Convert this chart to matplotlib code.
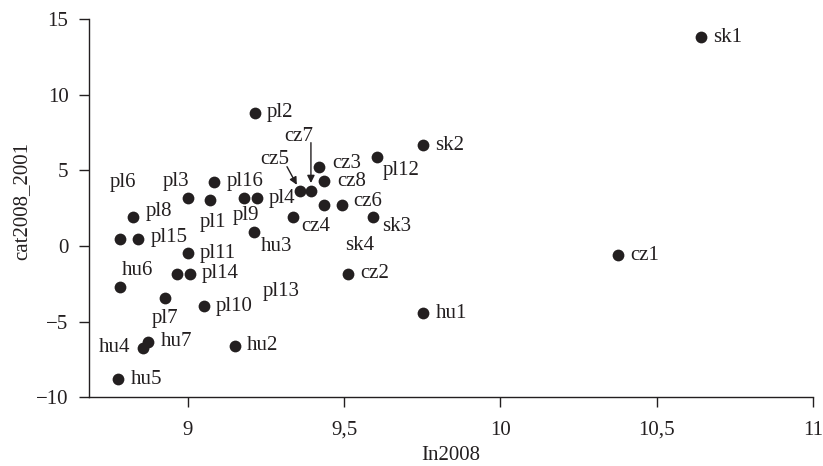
import matplotlib
matplotlib.use("Agg")
import matplotlib.pyplot as plt

# ---- data ----
names = ["sk1", "sk2", "pl12", "pl2", "cz3", "cz8", "cz5", "cz7", "pl16", "pl3",
         "pl1", "pl9", "pl4", "sk4", "cz6", "cz4", "sk3", "pl8", "pl6", "pl15",
         "hu3", "pl11", "pl13", "pl14", "cz2", "cz1", "hu6", "pl7", "pl10", "hu1",
         "hu7", "hu4", "hu2", "hu5"]
ln2008 = [10.642, 9.754, 9.606, 9.215, 9.420, 9.437, 9.359, 9.394, 9.085, 9.000,
          9.071, 9.181, 9.221, 9.437, 9.494, 9.338, 9.591, 8.826, 8.783, 8.842,
          9.213, 9.000, 8.965, 9.007, 9.514, 10.377, 8.783, 8.927, 9.052, 9.754,
          8.874, 8.856, 9.151, 8.778]
cat2008_2001 = [13.82, 6.68, 5.91, 8.82, 5.24, 4.30, 3.66, 3.66, 4.25, 3.15,
                3.04, 3.15, 3.15, 2.71, 2.71, 1.94, 1.94, 1.90, 0.46, 0.46,
                0.91, -0.48, -1.85, -1.85, -1.85, -0.60, -2.68, -3.44, -3.97, -4.45,
                -6.33, -6.73, -6.59, -8.82]
x_ticks = [9, 9.5, 10, 10.5, 11]
x_tick_labels = ["9", "9,5", "10", "10,5", "11"]
y_ticks = [-10, -5, 0, 5, 10, 15]
y_tick_labels = ["\u221210", "\u22125", "0", "5", "10", "15"]

# ---- label placement (offsets in pixels from the point: dx to label left edge, dy up) ----
default_off = (12, 0)
label_off = {
    "pl12": (6, -14), "pl3": (-25, 17), "pl1": (-10, -22), "pl9": (-12, -17),
    "sk4": (21, -40), "cz6": (11, 4), "cz4": (8, -10), "sk3": (10, -10),
    "pl8": (12, 6), "pl6": (-10, 57), "pl15": (12, 2), "hu3": (6, -14),
    "pl13": (86, -18), "hu6": (2, 16), "pl7": (-13, -20),
    "cz3": (13, 3), "cz8": (13, -1),
    "cz5": (-40, 31), "cz7": (-27, 54),
}
right_aligned = {"hu4": (-12, 0)}
arrows = {"cz5": (-13, 24, 4.8), "cz7": (0, 48, 5.5)}

ink = "#231f20"
plt.rcParams["font.family"] = ["Liberation Serif", "DejaVu Serif"]
plt.rcParams["font.size"] = 15

fig = plt.figure(figsize=(8.23, 4.66), dpi=100)
ax = fig.add_axes([0.1085, 0.1476, 0.8793, 0.8112])

ax.scatter(ln2008, cat2008_2001, s=72, color=ink, zorder=3, linewidths=0)

for n, xv, yv in zip(names, ln2008, cat2008_2001):
    if n in right_aligned:
        dx, dy = right_aligned[n]
        ax.annotate(n, (xv, yv), xytext=(dx, dy), textcoords="offset pixels",
                    ha="right", va="center", color=ink, fontsize=15)
        continue
    dx, dy = label_off.get(n, default_off)
    ax.annotate(n, (xv, yv), xytext=(dx, dy), textcoords="offset pixels",
                ha="left", va="center", color=ink, fontsize=15)
    if n in arrows:
        ax_, ay_, shr = arrows[n]
        ax.annotate("", (xv, yv), xytext=(ax_, ay_), textcoords="offset pixels",
                    arrowprops=dict(arrowstyle="-|>", color=ink, lw=1.0,
                                    mutation_scale=11, shrinkA=0, shrinkB=shr))

ax.set_xlim(8.685, 11.0)
ax.set_ylim(-10, 15)
ax.set_xticks(x_ticks)
ax.set_xticklabels(x_tick_labels)
ax.set_yticks(y_ticks)
ax.set_yticklabels(y_tick_labels)
ax.tick_params(axis="both", direction="out", length=7, width=1.0, colors=ink,
               labelsize=15)
ax.tick_params(axis="x", pad=10)
ax.tick_params(axis="y", pad=8)
for s in ["top", "right"]:
    ax.spines[s].set_visible(False)
for s in ["left", "bottom"]:
    ax.spines[s].set_color(ink)
    ax.spines[s].set_linewidth(1.0)

ax.set_xlabel("In2008", fontsize=15, color=ink)
ax.set_ylabel("cat2008_2001", fontsize=15, color=ink)
ax.xaxis.set_label_coords(0.5, -0.153)
ax.xaxis.label.set_va("center")
ax.yaxis.set_label_coords(-0.093, 0.52)
ax.yaxis.label.set_va("center")

fig.savefig("out.png", dpi=100)
